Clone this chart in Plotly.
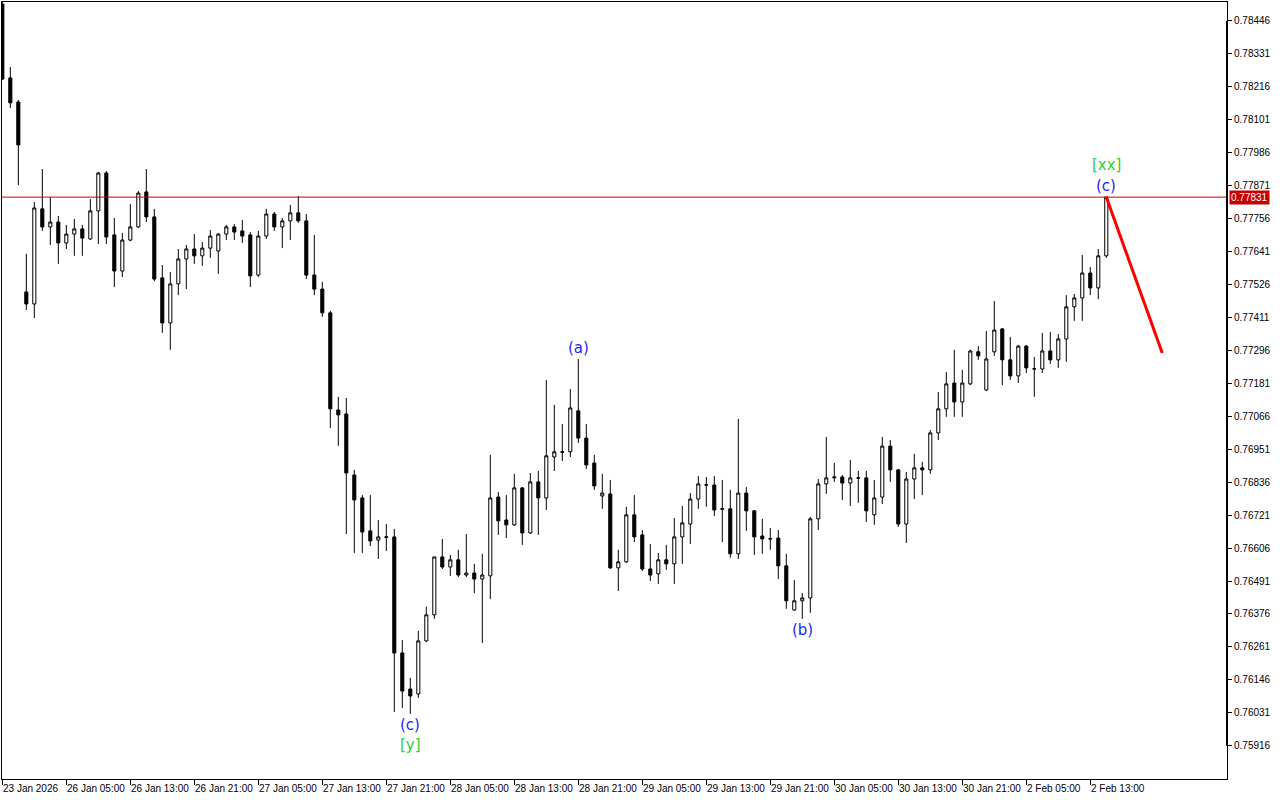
import plotly.graph_objects as go

# ---- H1 candles (index 0 = 23 Jan 2026 21:00) ----
open_ = [0.78505, 0.78247, 0.78163, 0.77500, 0.77458, 0.77790, 0.77727, 0.77744, 0.77671, 0.77702,
         0.77720, 0.77685, 0.77783, 0.77915, 0.77699, 0.77573, 0.77681, 0.77727, 0.77849, 0.77762,
         0.77549, 0.77392, 0.77528, 0.77615, 0.77650, 0.77626, 0.77653, 0.77643, 0.77702, 0.77727,
         0.77713, 0.77699, 0.77559, 0.77695, 0.77772, 0.77727, 0.77748, 0.77776, 0.77748, 0.77559,
         0.77510, 0.77427, 0.77088, 0.77074, 0.76861, 0.76781, 0.76666, 0.76634, 0.76643, 0.76645,
         0.76240, 0.76114, 0.76097, 0.76282, 0.76373, 0.76575, 0.76540, 0.76565, 0.76512, 0.76519,
         0.76498, 0.76509, 0.76784, 0.76704, 0.76687, 0.76816, 0.76659, 0.76837, 0.76781, 0.76924,
         0.76940, 0.76942, 0.77085, 0.76990, 0.76903, 0.76788, 0.76795, 0.76537, 0.76558, 0.76722,
         0.76652, 0.76533, 0.76516, 0.76565, 0.76551, 0.76645, 0.76690, 0.76777, 0.76827, 0.76826,
         0.76744, 0.76743, 0.76586, 0.76798, 0.76736, 0.76648, 0.76639, 0.76641, 0.76544, 0.76390,
         0.76422, 0.76432, 0.76708, 0.76830, 0.76851, 0.76854, 0.76833, 0.76850, 0.76851, 0.76722,
         0.76784, 0.76962, 0.76879, 0.76690, 0.76847, 0.76886, 0.76879, 0.77008, 0.77092, 0.77182,
         0.77116, 0.77179, 0.77291, 0.77158, 0.77291, 0.77371, 0.77263, 0.77207, 0.77311, 0.77232,
         0.77231, 0.77294, 0.77263, 0.77336, 0.77448, 0.77479, 0.77566, 0.77514, 0.77626]

high = [0.78512, 0.78285, 0.78170, 0.77633, 0.77814, 0.77929, 0.77831, 0.77765, 0.77734, 0.77755,
        0.77734, 0.77824, 0.77919, 0.77922, 0.77758, 0.77706, 0.77807, 0.77852, 0.77929, 0.77790,
        0.77594, 0.77570, 0.77650, 0.77664, 0.77702, 0.77674, 0.77716, 0.77706, 0.77734, 0.77737,
        0.77751, 0.77709, 0.77713, 0.77790, 0.77779, 0.77758, 0.77804, 0.77835, 0.77772, 0.77699,
        0.77535, 0.77434, 0.77134, 0.77130, 0.76879, 0.76791, 0.76791, 0.76704, 0.76690, 0.76673,
        0.76285, 0.76153, 0.76317, 0.76401, 0.76575, 0.76638, 0.76582, 0.76600, 0.76655, 0.76551,
        0.76586, 0.76931, 0.76802, 0.76791, 0.76865, 0.76819, 0.76868, 0.76875, 0.77193, 0.77106,
        0.77039, 0.77161, 0.77266, 0.77039, 0.76931, 0.76865, 0.76844, 0.76600, 0.76750, 0.76791,
        0.76669, 0.76620, 0.76589, 0.76617, 0.76711, 0.76753, 0.76798, 0.76858, 0.76854, 0.76858,
        0.76844, 0.76809, 0.77057, 0.76819, 0.76739, 0.76708, 0.76676, 0.76669, 0.76586, 0.76495,
        0.76449, 0.76715, 0.76847, 0.76994, 0.76903, 0.76861, 0.76914, 0.76875, 0.76875, 0.76844,
        0.76994, 0.76983, 0.76882, 0.76872, 0.76935, 0.76907, 0.77018, 0.77151, 0.77221, 0.77298,
        0.77228, 0.77298, 0.77311, 0.77364, 0.77468, 0.77374, 0.77343, 0.77315, 0.77315, 0.77273,
        0.77357, 0.77360, 0.77353, 0.77489, 0.77493, 0.77629, 0.77587, 0.77650, 0.77831]

low = [0.78240, 0.78142, 0.77873, 0.77437, 0.77409, 0.77713, 0.77664, 0.77598, 0.77650, 0.77626,
       0.77626, 0.77681, 0.77667, 0.77667, 0.77517, 0.77552, 0.77677, 0.77723, 0.77744, 0.77538,
       0.77357, 0.77298, 0.77489, 0.77510, 0.77598, 0.77591, 0.77619, 0.77563, 0.77681, 0.77681,
       0.77671, 0.77517, 0.77552, 0.77685, 0.77713, 0.77653, 0.77681, 0.77741, 0.77545, 0.77489,
       0.77413, 0.77025, 0.76963, 0.76655, 0.76589, 0.76589, 0.76613, 0.76568, 0.76596, 0.76034,
       0.76048, 0.76027, 0.76083, 0.76278, 0.76359, 0.76533, 0.76509, 0.76505, 0.76505, 0.76449,
       0.76275, 0.76428, 0.76652, 0.76641, 0.76683, 0.76617, 0.76655, 0.76652, 0.76739, 0.76875,
       0.76910, 0.76924, 0.76973, 0.76882, 0.76809, 0.76743, 0.76533, 0.76456, 0.76554, 0.76627,
       0.76526, 0.76491, 0.76481, 0.76530, 0.76481, 0.76551, 0.76620, 0.76743, 0.76750, 0.76718,
       0.76627, 0.76572, 0.76568, 0.76666, 0.76582, 0.76586, 0.76600, 0.76498, 0.76394, 0.76387,
       0.76359, 0.76380, 0.76669, 0.76795, 0.76837, 0.76774, 0.76753, 0.76764, 0.76697, 0.76687,
       0.76760, 0.76837, 0.76680, 0.76624, 0.76777, 0.76791, 0.76865, 0.76983, 0.77064, 0.77064,
       0.77064, 0.77175, 0.77263, 0.77154, 0.77277, 0.77175, 0.77193, 0.77182, 0.77217, 0.77134,
       0.77217, 0.77249, 0.77235, 0.77256, 0.77399, 0.77399, 0.77489, 0.77475, 0.77619]

close = [0.78243, 0.78160, 0.78013, 0.77458, 0.77793, 0.77727, 0.77744, 0.77671, 0.77702, 0.77720,
         0.77688, 0.77783, 0.77915, 0.77692, 0.77573, 0.77681, 0.77727, 0.77845, 0.77762, 0.77545,
         0.77392, 0.77528, 0.77615, 0.77650, 0.77626, 0.77653, 0.77695, 0.77702, 0.77727, 0.77709,
         0.77695, 0.77556, 0.77695, 0.77772, 0.77727, 0.77748, 0.77776, 0.77748, 0.77559, 0.77510,
         0.77427, 0.77092, 0.77071, 0.76868, 0.76774, 0.76662, 0.76631, 0.76645, 0.76645, 0.76240,
         0.76107, 0.76090, 0.76282, 0.76373, 0.76575, 0.76540, 0.76565, 0.76512, 0.76519, 0.76498,
         0.76512, 0.76781, 0.76701, 0.76687, 0.76816, 0.76659, 0.76837, 0.76781, 0.76928, 0.76942,
         0.76942, 0.77095, 0.76990, 0.76896, 0.76823, 0.76798, 0.76537, 0.76558, 0.76722, 0.76645,
         0.76533, 0.76512, 0.76565, 0.76551, 0.76645, 0.76694, 0.76777, 0.76830, 0.76826, 0.76739,
         0.76742, 0.76586, 0.76798, 0.76736, 0.76645, 0.76638, 0.76638, 0.76544, 0.76422, 0.76422,
         0.76432, 0.76708, 0.76830, 0.76851, 0.76854, 0.76833, 0.76851, 0.76851, 0.76736, 0.76781,
         0.76962, 0.76879, 0.76690, 0.76847, 0.76886, 0.76879, 0.77008, 0.77092, 0.77179, 0.77116,
         0.77182, 0.77294, 0.77277, 0.77266, 0.77367, 0.77263, 0.77207, 0.77311, 0.77235, 0.77231,
         0.77294, 0.77263, 0.77336, 0.77448, 0.77479, 0.77566, 0.77514, 0.77626, 0.77831]

bars = list(range(len(open_)))

# x-axis time labels (bar index -> label)
tick_index = [0, 8, 16, 24, 32, 40, 48, 56, 64, 72, 80, 88, 96, 104, 112, 120, 128, 136]
tick_labels = ["23 Jan 2026", "26 Jan 05:00", "26 Jan 13:00", "26 Jan 21:00", "27 Jan 05:00",
               "27 Jan 13:00", "27 Jan 21:00", "28 Jan 05:00", "28 Jan 13:00", "28 Jan 21:00",
               "29 Jan 05:00", "29 Jan 13:00", "29 Jan 21:00", "30 Jan 05:00", "30 Jan 13:00",
               "30 Jan 21:00", "2 Feb 05:00", "2 Feb 13:00"]

# y-axis price scale ticks
y_ticks = [0.78446, 0.78331, 0.78216, 0.78101, 0.77986, 0.77871, 0.77756, 0.77641, 0.77526,
           0.77411, 0.77296, 0.77181, 0.77066, 0.76951, 0.76836, 0.76721, 0.76606, 0.76491,
           0.76376, 0.76261, 0.76146, 0.76031, 0.75916]
y_tick_labels = ["0.78446", "0.78331", "0.78216", "0.78101", "0.77986", "0.77871", "0.77756",
                 "0.77641", "0.77526", "0.77411", "0.77296", "0.77181", "0.77066", "0.76951",
                 "0.76836", "0.76721", "0.76606", "0.76491", "0.76376", "0.76261", "0.76146",
                 "0.76031", "0.75916"]

current_price = 0.77831

# Forecast line
forecast_x = [138, 145]
forecast_y = [0.77831, 0.77287]

# Wave labels: (text, bar index, side, colour, stack level)
wave_labels = [
    ("(c)", 51, "below", "#1E1EFF", 0),
    ("[y]", 51, "below", "#32CD32", 1),
    ("(a)", 72, "above", "#1E1EFF", 0),
    ("(b)", 100, "below", "#1E1EFF", 0),
    ("(c)", 138, "above", "#1E1EFF", 0),
    ("[xx]", 138, "above", "#32CD32", 1),
]

fig = go.Figure()
fig.add_trace(go.Candlestick(
    x=bars, open=open_, high=high, low=low, close=close,
    increasing=dict(line=dict(color="black", width=1), fillcolor="white"),
    decreasing=dict(line=dict(color="black", width=1), fillcolor="black"),
    whiskerwidth=0, hoverinfo="skip", showlegend=False,
))
fig.add_trace(go.Scatter(
    x=forecast_x, y=forecast_y, mode="lines",
    line=dict(color="#FF0000", width=3), hoverinfo="skip", showlegend=False,
))

# current price line
fig.add_shape(type="line", xref="paper", x0=0, x1=1, yref="y",
              y0=current_price, y1=current_price, line=dict(color="#C80000", width=1))
# thick scale segment on right axis
fig.add_shape(type="line", xref="paper", x0=1, x1=1, yref="y",
              y0=y_ticks[-1], y1=y_ticks[0], line=dict(color="black", width=2))

# current price box
fig.add_annotation(xref="paper", x=1, xanchor="left", xshift=2, yref="y", y=current_price,
                   yanchor="middle", text=f"{current_price:.5f}", showarrow=False,
                   bgcolor="#C80000", borderpad=1,
                   font=dict(family="Liberation Sans", size=10, color="white"))

# x tick labels (left aligned like MT4)
for idx, lab in zip(tick_index, tick_labels):
    fig.add_annotation(xref="x", x=idx, xanchor="left", xshift=-1, yref="paper", y=0,
                       yanchor="top", yshift=-2, text=lab, showarrow=False,
                       font=dict(family="Liberation Sans", size=10, color="black"))

# wave labels
for text, idx, side, col, lvl in wave_labels:
    if side == "above":
        yv = high[idx]
        fig.add_annotation(x=idx, y=yv, yanchor="bottom", yshift=0 + 21 * lvl, text=text,
                           showarrow=False, font=dict(family="DejaVu Sans", size=15, color=col))
    else:
        yv = low[idx]
        fig.add_annotation(x=idx, y=yv, yanchor="top", yshift=0 - 20 * lvl, text=text,
                           showarrow=False, font=dict(family="DejaVu Sans", size=15, color=col))

fig.update_layout(
    width=1280, height=800,
    margin=dict(l=2, r=53, t=2, b=21),
    paper_bgcolor="white", plot_bgcolor="white",
    showlegend=False, boxgap=0.45,
    xaxis=dict(range=[-0.04, 153.09], rangeslider=dict(visible=False), showgrid=False,
               zeroline=False, showline=True, linecolor="black", linewidth=1, mirror=True,
               tickmode="array", tickvals=tick_index, ticks="outside", ticklen=5,
               tickcolor="black", showticklabels=False),
    yaxis=dict(side="right", range=[0.75800, 0.78512], tickmode="array", tickvals=y_ticks,
               ticktext=y_tick_labels, ticks="outside", ticklen=4, tickcolor="black",
               showgrid=False, zeroline=False, showline=True, linecolor="black", linewidth=1,
               mirror=True, tickfont=dict(family="Liberation Sans", size=10, color="black")),
)

fig.write_html(
    "out.html",
    config={"displayModeBar": False},
    post_script="document.body.style.margin='0';document.body.style.overflow='hidden';",
)
